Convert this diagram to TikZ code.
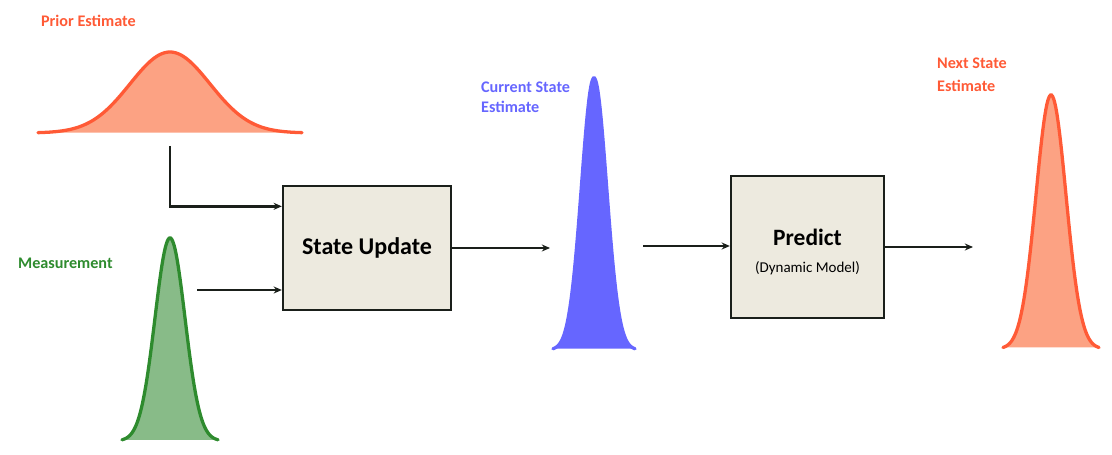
\documentclass[tikz,border=0pt]{standalone}
\usepackage{fontspec}
\setsansfont{Carlito}
\usetikzlibrary{arrows}
\usetikzlibrary{arrows.meta}
\usetikzlibrary{positioning}

\definecolor{priorred}{HTML}{FF5A36}
\definecolor{priorfill}{HTML}{FCA283}
\definecolor{measgreen}{HTML}{2E8B2E}
\definecolor{measfill}{HTML}{88BB88}
\definecolor{estblue}{HTML}{6666FF}
\definecolor{boxfill}{HTML}{EDEADF}
\definecolor{linedark}{HTML}{1A1F1A}

\begin{document}
\begin{tikzpicture}[
    x=0.03cm, y=-0.03cm, >={Stealth[length=7pt, width=6pt]},
    % blocks
    block/.style={
        draw=linedark,
        fill=boxfill,
        line width=2pt,
        align=center
    },
    % connectors
    flow/.style={->, draw=linedark, line width=2.1pt},
    % labels
    est label/.style={
        anchor=west,
        align=left,
        font=\sffamily\bfseries\fontsize{13.8}{17}\selectfont
    },
    block title/.style={font=\sffamily\bfseries\fontsize{20.5}{24}\selectfont},
    % bell curves
    bell line/.style={line width=2.8pt, line cap=round}
]

\useasboundingbox (0,0) rectangle (1112,455);

% -------------------------------
% Gaussians (centre / base / height / sigma / half width)
\foreach \cx/\base/\h/\s/\w/\fc/\lc in {
    170/133/81/40/132/priorfill/priorred,
    170/441/203/15/48/measfill/measgreen,
    594/350/272/12.5/41/estblue/estblue,
    1051/349/254/15/48/priorfill/priorred}
{
    \fill[\fc] plot[domain=-\w:\w, samples=90, smooth]
        ({\cx+\x},{\base-\h*exp(-((\x/\s)^2)/2)}) -- cycle;
    \draw[bell line, \lc] plot[domain=-\w:\w, samples=90, smooth]
        ({\cx+\x},{\base-\h*exp(-((\x/\s)^2)/2)});
}

% -------------------------------
% Labels
\node[est label, text=priorred] (prior-lbl) at (37,21) {Prior Estimate};
\node[est label, text=measgreen] (meas-lbl) at (14,263) {Measurement};
\node[est label, text=estblue] (cur-lbl) at (477,97) {Current State\\Estimate};
\node[est label, text=priorred, font=\sffamily\bfseries\fontsize{13.8}{19.5}\selectfont]
    (next-lbl) at (933,75) {Next State\\Estimate};

% -------------------------------
% Blocks
\node[block, block title, minimum width=5.04cm, minimum height=3.72cm] (update) at (367,248) {State Update};
\node[block, minimum width=4.59cm, minimum height=4.26cm] (predict) at (807.5,247) {};
\node[block title, font=\sffamily\bfseries\fontsize{20}{22}\selectfont] (predict-lbl) at (807.5,237) {Predict};
\node[font=\sffamily\fontsize{12.8}{14}\selectfont] (predict-sub) at (807.5,268) {(Dynamic Model)};

% -------------------------------
% Connector end points
\coordinate (prior-foot) at (170,146);
\coordinate (meas-foot) at (197,290);
\coordinate (cur-in) at (550,248);
\coordinate (cur-out) at (643,246);
\coordinate (next-in) at (973,247);

% -------------------------------
% Connectors
\draw[flow] (prior-foot) |- ([yshift=1.25cm]update.west);
\draw[flow] (meas-foot) -- (update.west |- meas-foot);
\draw[flow] (update.east) -- (cur-in);
\draw[flow] (cur-out) -- (predict.west |- cur-out);
\draw[flow] (predict.east |- next-in) -- (next-in);

\end{tikzpicture}
\end{document}
